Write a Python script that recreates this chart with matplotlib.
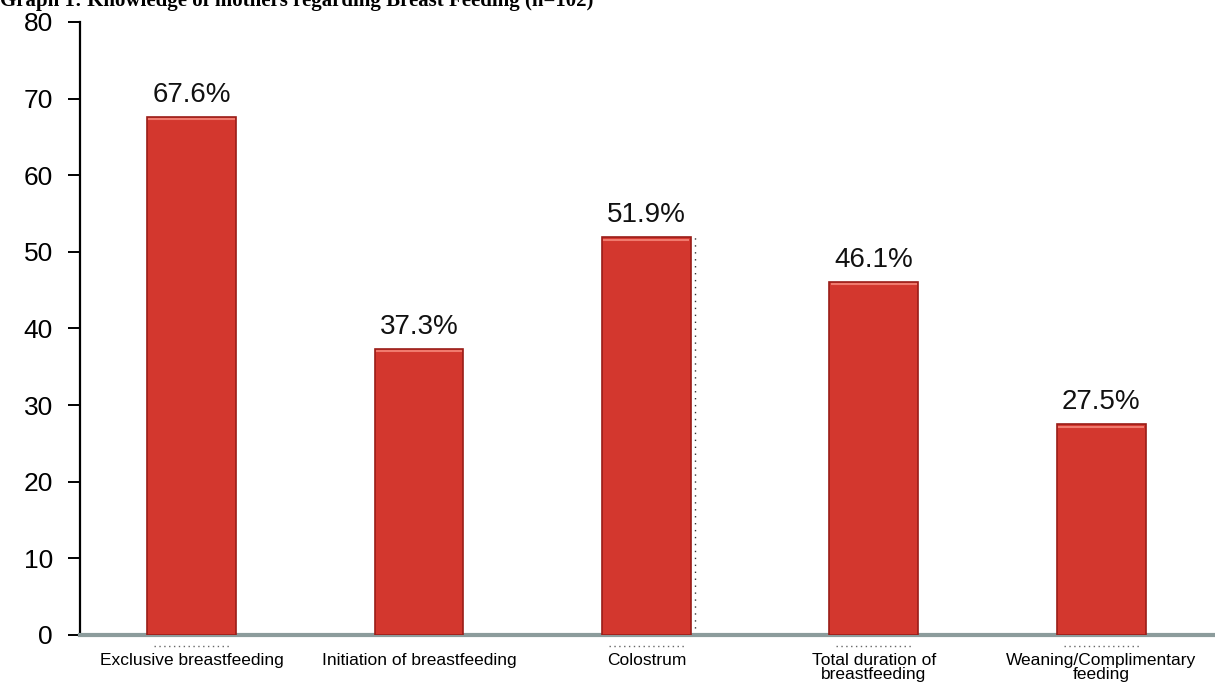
import matplotlib.pyplot as plt
import numpy as np

# datos
categorias = ['Exclusive breastfeeding', 'Initiation of breastfeeding', 'Colostrum',
              'Total duration of\nbreastfeeding', 'Weaning/Complimentary\nfeeding']
porcentajes = [67.6, 37.3, 51.9, 46.1, 27.5]
titulo = 'Graph 1: Knowledge of mothers regarding Breast Feeding (n=102)'

plt.rcParams['font.family'] = ['Liberation Sans', 'DejaVu Sans']

fig = plt.figure(figsize=(12.15, 6.84), dpi=100)
ax = fig.add_axes([80/1215, 1 - 635/684, 1 - 80/1215, 613/684])

x = np.arange(len(categorias))
ancho = 0.39
barras = ax.bar(x, porcentajes, width=ancho, color='#d3372e', edgecolor='#9a1d18', linewidth=1.2, zorder=3)
# brillo arriba de cada barra
for b in barras:
    ax.plot([b.get_x() + 0.01, b.get_x() + b.get_width() - 0.01], [b.get_height() - 0.3] * 2,
            color='#f07a6e', lw=1.5, zorder=4)

# lineas punteadas sueltas como en la imagen original
ax.plot([x[2] + ancho / 2 + 0.02] * 2, [0, porcentajes[2]], color='#333333', lw=1,
        ls=(0, (1, 4)), zorder=2)
for xi in [0, 2, 3, 4]:
    ax.plot([xi - ancho / 2 + 0.03, xi + ancho / 2 - 0.03], [-1.4, -1.4], color='#666666', lw=1,
            ls=(0, (1, 2.5)), clip_on=False)

for xi, v in zip(x, porcentajes):
    ax.text(xi, v + 1.2, f'{v}%', ha='center', va='bottom', fontsize=20, color='#111111')

ax.set_xlim(-0.49, 4.5)
ax.set_ylim(0, 80)
ax.set_yticks(range(0, 81, 10))
ax.tick_params(axis='y', labelsize=19, length=8.6, width=1.4, direction='out', pad=11)
ax.set_xticks(x)
ax.set_xticklabels(categorias, fontsize=12.5, linespacing=0.95)
ax.tick_params(axis='x', length=0, pad=13)

for s in ['top', 'right']:
    ax.spines[s].set_visible(False)
ax.spines['left'].set_linewidth(1.6)
ax.spines['bottom'].set_color('#8c9c9c')
ax.spines['bottom'].set_linewidth(3)

fig.text(0.0, 1 - 6/684, titulo, fontsize=15, fontweight='bold',
         family=['Liberation Serif', 'DejaVu Serif'], va='baseline', ha='left')

fig.savefig('out.png', dpi=100)
